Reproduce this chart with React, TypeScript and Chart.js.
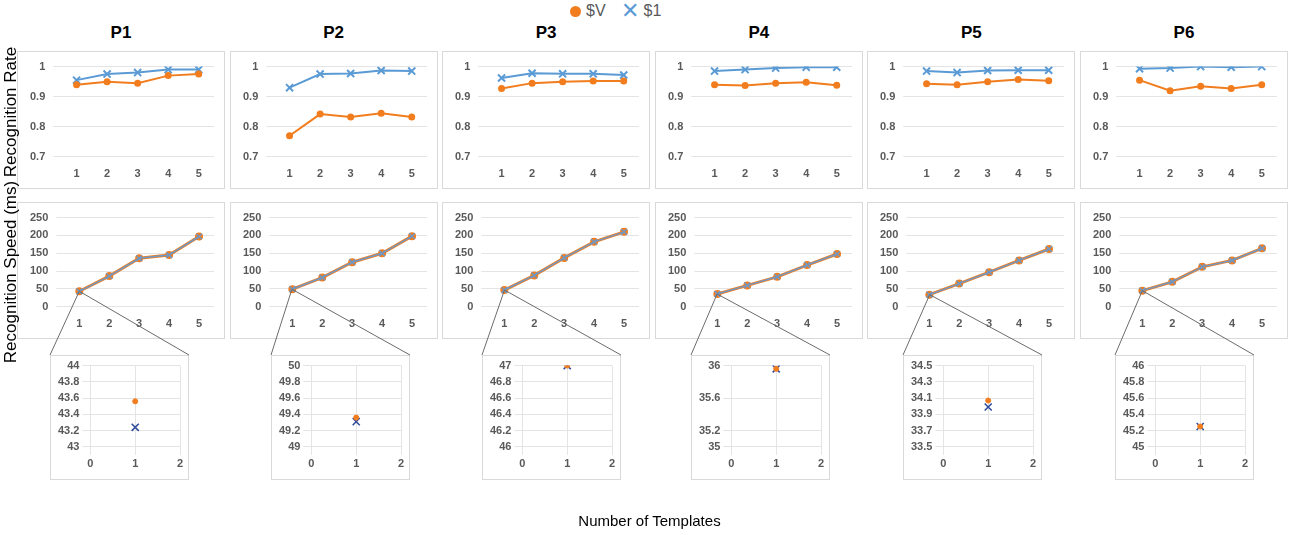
import { useEffect, useRef } from "react";
import { Chart, registerables } from "chart.js";

Chart.register(...registerables);

const panels = ["P1", "P2", "P3", "P4", "P5", "P6"];
const templates = ["1", "2", "3", "4", "5"];

const rateV = [
  [0.94, 0.95, 0.945, 0.97, 0.975],
  [0.77, 0.842, 0.832, 0.845, 0.832],
  [0.927, 0.945, 0.95, 0.952, 0.952],
  [0.94, 0.937, 0.945, 0.948, 0.938],
  [0.943, 0.94, 0.95, 0.957, 0.953],
  [0.955, 0.92, 0.935, 0.927, 0.94],
];
const rate1 = [
  [0.955, 0.975, 0.98, 0.99, 0.99],
  [0.93, 0.975, 0.977, 0.987, 0.985],
  [0.962, 0.978, 0.976, 0.976, 0.972],
  [0.985, 0.99, 0.995, 0.998, 0.998],
  [0.985, 0.98, 0.987, 0.988, 0.988],
  [0.993, 0.995, 1.0, 0.998, 1.0],
];
const speedV = [
  [43.56, 86, 136, 145, 197],
  [49.36, 82, 125, 150, 198],
  [47, 88, 137, 182, 210],
  [35.96, 60, 84, 117, 148],
  [34.07, 65, 97, 130, 162],
  [45.25, 70, 112, 130, 164],
];
const speed1 = [
  [43.24, 86, 136, 145, 197],
  [49.31, 82, 125, 150, 198],
  [47, 88, 137, 182, 210],
  [35.96, 60, 84, 117, 148],
  [33.99, 65, 97, 130, 162],
  [45.25, 70, 112, 130, 164],
];
const insetMin = [43, 49, 46, 35, 33.5, 45];
const insetMax = [44, 50, 47, 36, 34.5, 46];
const insetStep = [0.2, 0.2, 0.2, 0.4, 0.2, 0.2];

const ORANGE = "#F27D1E";
const BLUE = "#5B9BD5";
const NAVY = "#2E4A9A";
const GRID = "#e4e4e4";
const TICK = { size: 11, weight: "bold" as const, family: "Liberation Sans, Arial" };

const colLeft = (i: number) => 17 + i * 212.6;
const insetLeft = [50, 271, 482, 691, 903, 1115];

export default function App() {
  const rateRefs = useRef<(HTMLCanvasElement | null)[]>([]);
  const speedRefs = useRef<(HTMLCanvasElement | null)[]>([]);
  const insetRefs = useRef<(HTMLCanvasElement | null)[]>([]);
  const overlayRef = useRef<HTMLCanvasElement>(null);

  useEffect(() => {
    const charts: Chart[] = [];
    const ticksX = { color: "#595959", font: TICK };
    panels.forEach((_, i) => {
      charts.push(
        new Chart(rateRefs.current[i]!, {
          type: "line",
          data: {
            labels: templates,
            datasets: [
              { data: rateV[i], borderColor: ORANGE, backgroundColor: ORANGE, pointStyle: "circle", pointRadius: 2.5, borderWidth: 2 },
              { data: rate1[i], borderColor: BLUE, backgroundColor: BLUE, pointStyle: "crossRot", pointRadius: 5, borderWidth: 2 },
            ],
          },
          options: {
            animation: false, responsive: false,
            layout: { padding: { top: 4, right: 10, bottom: 4, left: 4 } },
            plugins: { legend: { display: false }, tooltip: { enabled: false } },
            scales: {
              x: { offset: true, grid: { display: false }, border: { display: false }, ticks: { ...ticksX, padding: 3 } },
              y: { min: 0.7, max: 1, grid: { color: GRID }, border: { display: false },
                ticks: { ...ticksX, stepSize: 0.1, padding: 8, callback: (v) => (v === 1 ? "1" : Number(v).toFixed(1)) } },
            },
          },
        })
      );
      charts.push(
        new Chart(speedRefs.current[i]!, {
          type: "line",
          data: {
            labels: templates,
            datasets: [
              { data: speedV[i], order: 1, borderColor: ORANGE, backgroundColor: ORANGE, pointStyle: "circle", pointRadius: 2.5, borderWidth: 3 },
              { data: speed1[i], order: 0, borderColor: "#6F98C4", backgroundColor: BLUE, pointStyle: "crossRot", pointRadius: 4, borderWidth: 1.5 },
            ],
          },
          options: {
            animation: false, responsive: false,
            layout: { padding: { top: 4, right: 10, bottom: 4, left: 4 } },
            plugins: { legend: { display: false }, tooltip: { enabled: false } },
            scales: {
              x: { offset: true, grid: { display: false }, border: { display: false }, ticks: { ...ticksX, padding: 3 } },
              y: { min: 0, max: 250, grid: { color: GRID }, border: { display: false }, ticks: { ...ticksX, stepSize: 50, padding: 8 } },
            },
          },
        })
      );
      charts.push(
        new Chart(insetRefs.current[i]!, {
          type: "scatter",
          data: {
            datasets: [
              { data: [{ x: 1, y: speedV[i][0] }], backgroundColor: ORANGE, borderColor: ORANGE, pointRadius: 2.5 },
              { data: [{ x: 1, y: speed1[i][0] }], borderColor: NAVY, pointStyle: "crossRot", pointRadius: 5, borderWidth: 1.5 },
            ],
          },
          options: {
            animation: false, responsive: false,
            layout: { padding: { top: 8, right: 8, bottom: 0, left: 4 } },
            plugins: { legend: { display: false }, tooltip: { enabled: false } },
            scales: {
              x: { type: "linear", min: 0, max: 2, grid: { color: GRID }, border: { display: false }, ticks: { ...ticksX, stepSize: 1 } },
              y: { min: insetMin[i], max: insetMax[i], grid: { color: GRID }, border: { display: false },
                ticks: { ...ticksX, stepSize: insetStep[i], callback: (v) => String(Math.round(Number(v) * 10) / 10) } },
            },
          },
        })
      );
    });

    // connector lines from the first speed point to the inset box corners
    const ov = overlayRef.current!;
    const ctx = ov.getContext("2d")!;
    const base = ov.getBoundingClientRect();
    ctx.strokeStyle = "#6b6b6b";
    ctx.lineWidth = 1;
    panels.forEach((_, i) => {
      const sc = charts[i * 3 + 1];
      const r = sc.canvas.getBoundingClientRect();
      const px = r.left - base.left + sc.scales.x.getPixelForValue(0);
      const py = r.top - base.top + sc.scales.y.getPixelForValue(speedV[i][0]);
      const ib = insetRefs.current[i]!.parentElement!.getBoundingClientRect();
      ctx.beginPath();
      ctx.moveTo(px, py);
      ctx.lineTo(ib.left - base.left, ib.top - base.top);
      ctx.moveTo(px, py);
      ctx.lineTo(ib.right - base.left, ib.top - base.top);
      ctx.stroke();
    });

    return () => charts.forEach((c) => c.destroy());
  }, []);

  const box = (left: number, top: number, w: number, h: number): React.CSSProperties => ({
    position: "absolute", left, top, width: w, height: h, border: "1px solid #d9d9d9", background: "#fff", boxSizing: "border-box",
  });
  const text: React.CSSProperties = { position: "absolute", fontFamily: "Liberation Sans, Arial", color: "#000" };

  return (
    <div style={{ position: "fixed", left: 0, top: 0, width: 1299, height: 535, background: "#fff", overflow: "hidden" }}>
      <div style={{ ...text, left: 570, top: 2, fontSize: 16, color: "#595959", display: "flex", alignItems: "center", gap: 5 }}>
        <span style={{ display: "inline-block", width: 11, height: 11, borderRadius: 6, background: ORANGE }} />
        <span>$V</span>
        <span style={{ color: BLUE, fontSize: 22, marginLeft: 10, lineHeight: "16px" }}>✕</span>
        <span>$1</span>
      </div>
      {panels.map((p, i) => (
        <div key={p}>
          <div style={{ ...text, left: colLeft(i), width: 208, top: 23, textAlign: "center", fontSize: 17, fontWeight: "bold" }}>{p}</div>
          <div style={box(colLeft(i), 51, 208, 138)}>
            <canvas ref={(el) => { rateRefs.current[i] = el; }} width={206} height={136} />
          </div>
          <div style={box(colLeft(i), 202, 208, 137)}>
            <canvas ref={(el) => { speedRefs.current[i] = el; }} width={206} height={135} />
          </div>
          <div style={box(insetLeft[i], 355, 139, 125)}>
            <canvas ref={(el) => { insetRefs.current[i] = el; }} width={137} height={118} />
          </div>
        </div>
      ))}
      <canvas ref={overlayRef} width={1299} height={535} style={{ position: "absolute", left: 0, top: 0, pointerEvents: "none" }} />
      <div style={{ ...text, left: 11, top: 112, fontSize: 17, transform: "translate(-50%,-50%) rotate(-90deg)", whiteSpace: "nowrap" }}>Recognition Rate</div>
      <div style={{ ...text, left: 11, top: 272, fontSize: 17, transform: "translate(-50%,-50%) rotate(-90deg)", whiteSpace: "nowrap" }}>Recognition Speed (ms)</div>
      <div style={{ ...text, left: 0, width: 1299, top: 512, textAlign: "center", fontSize: 15 }}>Number of Templates</div>
    </div>
  );
}
